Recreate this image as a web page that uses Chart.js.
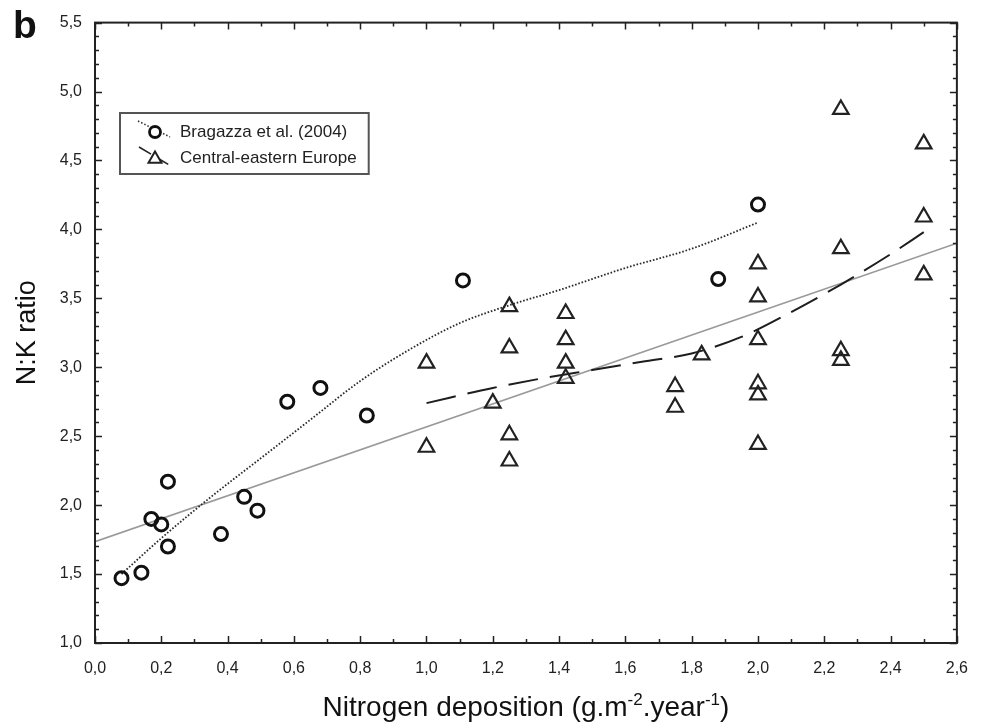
<!DOCTYPE html>
<html>
<head>
<meta charset="utf-8">
<script src="https://cdn.jsdelivr.net/npm/chart.js@4/dist/chart.umd.min.js"></script>
<style>
  html, body { margin: 0; padding: 0; background: #ffffff; }
  #wrap { width: 984px; height: 724px; }
</style>
</head>
<body>
<div id="wrap"><canvas id="chart" width="984" height="724"></canvas></div>
<script>
// N:K ratio against nitrogen deposition (g.m-2.year-1)

// Bragazza et al. (2004) sites
const bragazzaDeposition = [0.08, 0.14, 0.17, 0.20, 0.22, 0.22, 0.38, 0.45, 0.49, 0.58, 0.68, 0.82, 1.11, 1.88, 2.00];
const bragazzaRatio      = [1.47, 1.51, 1.90, 1.86, 1.70, 2.17, 1.79, 2.06, 1.96, 2.75, 2.85, 2.65, 3.63, 3.64, 4.18];

// Central-eastern Europe sites
const europeDeposition = [1.00, 1.00, 1.20, 1.25, 1.25, 1.25, 1.25, 1.42, 1.42, 1.42, 1.42, 1.75, 1.75, 1.83,
                          2.00, 2.00, 2.00, 2.00, 2.00, 2.00, 2.25, 2.25, 2.25, 2.25, 2.50, 2.50, 2.50];
const europeRatio      = [3.03, 2.42, 2.74, 3.44, 3.14, 2.51, 2.32, 3.39, 3.20, 3.03, 2.92, 2.86, 2.71, 3.09,
                          3.75, 3.51, 3.20, 2.88, 2.80, 2.44, 4.87, 3.86, 3.12, 3.05, 4.62, 4.09, 3.67];

// Smoothed trend through the Bragazza et al. sites (dotted)
const bragazzaTrendX = [0.08, 0.20, 0.35, 0.50, 0.65, 0.80, 0.95, 1.10, 1.25, 1.40, 1.60, 1.80, 2.00];
const bragazzaTrendY = [1.50, 1.76, 2.06, 2.34, 2.62, 2.90, 3.13, 3.32, 3.45, 3.56, 3.72, 3.86, 4.05];

// Smoothed trend through the Central-eastern Europe sites (dashed)
const europeTrendX = [1.00, 1.20, 1.35, 1.50, 1.65, 1.80, 1.95, 2.10, 2.25, 2.40, 2.50];
const europeTrendY = [2.74, 2.85, 2.92, 2.98, 3.04, 3.10, 3.22, 3.40, 3.60, 3.82, 3.98];

// Linear fit over all sites (solid grey)
const overallFitX = [0.0, 2.6];
const overallFitY = [1.735, 3.90];

// Axis ranges and tick spacing
const xRange = [0.0, 2.6];
const yRange = [1.0, 5.5];
const xMajorStep = 0.2, xMinorStep = 0.1;
const yMajorStep = 0.5, yMinorStep = 0.1;

const legendLabels = ['Bragazza et al. (2004)', 'Central-eastern Europe'];
const panelLetter = 'b';
const yTitle = 'N:K ratio';

const pairs = (xs, ys) => xs.map((x, i) => ({ x: x, y: ys[i] }));
const commaFormat = v => (Math.round(v * 10) / 10).toFixed(1).replace('.', ',');
const FONT = "'Liberation Sans', Arial, 'DejaVu Sans', sans-serif";

// Frame, inward major/minor ticks, x-axis title with superscripts, panel letter and legend box
const decorations = {
  id: 'decorations',
  afterDraw(chart) {
    const { ctx, chartArea: a, scales } = chart;
    const xs = scales.x, ys = scales.y;
    ctx.save();

    // ticks on all four sides, pointing inwards
    ctx.strokeStyle = '#222';
    ctx.lineWidth = 1.5;
    const nx = Math.round((xRange[1] - xRange[0]) / xMinorStep);
    for (let i = 0; i <= nx; i++) {
      const v = xRange[0] + i * xMinorStep;
      const px = Math.round(xs.getPixelForValue(v)) + 0.5;
      const major = i % Math.round(xMajorStep / xMinorStep) === 0;
      const len = major ? 7 : 4;
      ctx.beginPath();
      ctx.moveTo(px, a.bottom); ctx.lineTo(px, a.bottom - len);
      ctx.moveTo(px, a.top); ctx.lineTo(px, a.top + len);
      ctx.stroke();
    }
    const ny = Math.round((yRange[1] - yRange[0]) / yMinorStep);
    for (let i = 0; i <= ny; i++) {
      const v = yRange[0] + i * yMinorStep;
      const py = Math.round(ys.getPixelForValue(v)) + 0.5;
      const major = i % Math.round(yMajorStep / yMinorStep) === 0;
      const len = major ? 7 : 4;
      ctx.beginPath();
      ctx.moveTo(a.left, py); ctx.lineTo(a.left + len, py);
      ctx.moveTo(a.right, py); ctx.lineTo(a.right - len, py);
      ctx.stroke();
    }

    // plot frame
    ctx.strokeStyle = '#222';
    ctx.lineWidth = 2;
    ctx.strokeRect(a.left, a.top, a.right - a.left, a.bottom - a.top);

    // x-axis title with superscripts
    const mainFont = '28px ' + FONT;
    const supFont = '17px ' + FONT;
    const parts = [
      ['Nitrogen deposition (g.m', mainFont, 0],
      ['-2', supFont, -11],
      ['.year', mainFont, 0],
      ['-1', supFont, -11],
      [')', mainFont, 0]
    ];
    let total = 0;
    parts.forEach(p => { ctx.font = p[1]; total += ctx.measureText(p[0]).width; });
    let tx = (a.left + a.right) / 2 - total / 2;
    const ty = 716;
    ctx.fillStyle = '#111';
    ctx.textBaseline = 'alphabetic';
    ctx.textAlign = 'left';
    parts.forEach(p => {
      ctx.font = p[1];
      ctx.fillText(p[0], tx, ty + p[2]);
      tx += ctx.measureText(p[0]).width;
    });

    // panel letter
    ctx.font = 'bold 39px ' + FONT;
    ctx.fillText(panelLetter, 13, 38);

    // legend box
    ctx.font = '17px ' + FONT;
    const textX = 180;
    const boxL = 120, boxT = 113, boxH = 61;
    const boxW = Math.max(...legendLabels.map(t => ctx.measureText(t).width)) + (textX - boxL) + 12;
    ctx.lineWidth = 2;
    ctx.strokeStyle = '#555';
    ctx.strokeRect(boxL, boxT, boxW, boxH);

    const rows = [132, 158];
    // dotted sample + circle
    ctx.strokeStyle = '#333';
    ctx.lineWidth = 1.6;
    ctx.setLineDash([1.5, 2]);
    ctx.beginPath(); ctx.moveTo(138, rows[0] - 11); ctx.lineTo(170, rows[0] + 5); ctx.stroke();
    // dashed sample + triangle
    ctx.strokeStyle = '#222';
    ctx.setLineDash([14, 6]);
    ctx.beginPath(); ctx.moveTo(139, rows[1] - 11); ctx.lineTo(171, rows[1] + 8); ctx.stroke();
    ctx.setLineDash([]);

    ctx.fillStyle = '#fff';
    ctx.strokeStyle = '#111';
    ctx.lineWidth = 2.8;
    ctx.beginPath(); ctx.arc(155, rows[0], 5.5, 0, Math.PI * 2); ctx.fill(); ctx.stroke();
    ctx.lineWidth = 2;
    ctx.strokeStyle = '#222';
    const r = 7.5;
    ctx.beginPath();
    for (let k = 0; k < 3; k++) {
      const ang = k * 2 * Math.PI / 3;
      const px = 155 + Math.sin(ang) * r, py = rows[1] + 1 - Math.cos(ang) * r;
      if (k === 0) ctx.moveTo(px, py); else ctx.lineTo(px, py);
    }
    ctx.closePath(); ctx.fill(); ctx.stroke();

    ctx.fillStyle = '#222';
    ctx.font = '17px ' + FONT;
    ctx.textBaseline = 'middle';
    ctx.fillText(legendLabels[0], textX, rows[0]);
    ctx.fillText(legendLabels[1], textX, rows[1]);

    ctx.restore();
  }
};

new Chart(document.getElementById('chart'), {
  type: 'scatter',
  data: {
    datasets: [
      {
        label: legendLabels[0],
        data: pairs(bragazzaDeposition, bragazzaRatio),
        pointStyle: 'circle',
        pointRadius: 6.5,
        pointBorderWidth: 3,
        pointBorderColor: '#111',
        pointBackgroundColor: 'rgba(255,255,255,0)'
      },
      {
        label: legendLabels[1],
        data: pairs(europeDeposition, europeRatio),
        pointStyle: 'triangle',
        pointRadius: 9,
        pointBorderWidth: 2.2,
        pointBorderColor: '#222',
        pointBackgroundColor: 'rgba(255,255,255,0)'
      },
      {
        label: 'Bragazza trend',
        data: pairs(bragazzaTrendX, bragazzaTrendY),
        showLine: true,
        pointRadius: 0,
        borderColor: '#2a2a2a',
        borderWidth: 1.8,
        borderDash: [1.6, 1.8],
        cubicInterpolationMode: 'monotone'
      },
      {
        label: 'Central-eastern Europe trend',
        data: pairs(europeTrendX, europeTrendY),
        showLine: true,
        pointRadius: 0,
        borderColor: '#1e1e1e',
        borderWidth: 2,
        borderDash: [30, 12],
        cubicInterpolationMode: 'monotone'
      },
      {
        label: 'Linear fit',
        data: pairs(overallFitX, overallFitY),
        showLine: true,
        pointRadius: 0,
        borderColor: '#9a9a9a',
        borderWidth: 1.6
      }
    ]
  },
  options: {
    responsive: false,
    devicePixelRatio: 1,
    animation: false,
    events: [],
    layout: { padding: { top: 22, right: 18, left: 0, bottom: 0 } },
    plugins: {
      legend: { display: false },
      tooltip: { enabled: false },
      title: { display: false }
    },
    scales: {
      x: {
        type: 'linear',
        min: xRange[0],
        max: xRange[1],
        grid: { display: false, drawTicks: false },
        border: { display: false },
        ticks: {
          stepSize: xMajorStep,
          padding: 16,
          color: '#222',
          font: { family: FONT, size: 16 },
          callback: v => commaFormat(v)
        },
        afterFit: s => { s.height = 81; }
      },
      y: {
        type: 'linear',
        min: yRange[0],
        max: yRange[1],
        grid: { display: false, drawTicks: false },
        border: { display: false },
        ticks: {
          stepSize: yMajorStep,
          padding: 13,
          color: '#222',
          font: { family: FONT, size: 16 },
          callback: v => commaFormat(v)
        },
        title: {
          display: true,
          text: yTitle,
          color: '#111',
          font: { family: FONT, size: 27 },
          padding: { top: 11, bottom: 0 }
        },
        afterFit: s => { s.width = 95; }
      }
    }
  },
  plugins: [decorations]
});
</script>
</body>
</html>
